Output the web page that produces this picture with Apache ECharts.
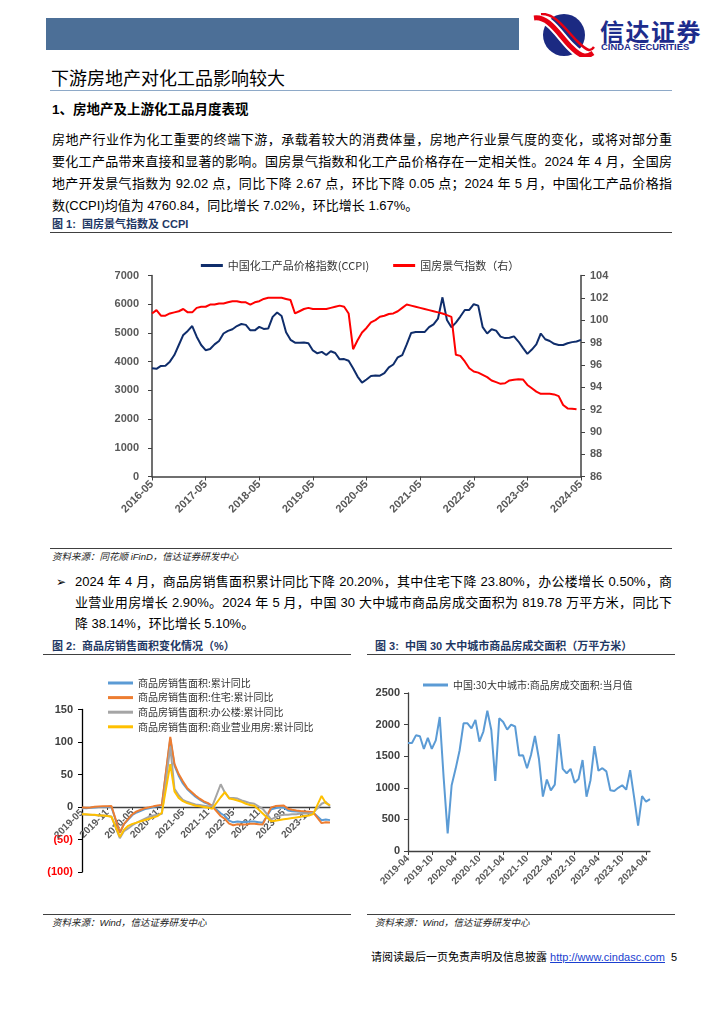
<!DOCTYPE html>
<html><head><meta charset="utf-8">
<script src="https://cdn.jsdelivr.net/npm/echarts/dist/echarts.min.js"></script>
<style>
body{margin:0;width:724px;height:1024px;background:#fff;position:relative;overflow:hidden;font-family:"Liberation Sans",Arial,"Noto Sans CJK SC",sans-serif;color:#000}
.a{position:absolute;white-space:nowrap}
.ln{position:absolute;left:52px;width:620px;height:22px;line-height:22px;font-size:13px;text-align:justify;text-align-last:justify;white-space:nowrap}
.lnl{position:absolute;left:52px;height:22px;line-height:22px;font-size:13px;white-space:nowrap}
.cap{position:absolute;font-size:11px;font-weight:bold;color:#1f3864;white-space:nowrap;line-height:14px}
.rule{position:absolute;height:0;border-top:1.3px solid #404040}
.src{position:absolute;font-size:9.5px;font-style:italic;color:#222;white-space:nowrap;line-height:12px}
.chart{position:absolute}
</style></head>
<body>
<!-- header -->
<div class="a" style="left:46px;top:18px;width:473px;height:32px;background:#4c6f97"></div>
<svg class="a" style="left:531px;top:13px" width="64" height="44" viewBox="0 0 64 44">
  <circle cx="33" cy="22" r="21" fill="#1b2a82"/>
  <path d="M3 5 C 18 3, 28 22, 40 34 S 56 44, 62 40" stroke="#fff" stroke-width="9" fill="none"/>
  <path d="M3 5 C 18 3, 28 22, 40 34 S 56 44, 62 40" stroke="#e60012" stroke-width="5" fill="none"/>
  <path d="M10 1 C 24 0, 34 16, 46 28 S 60 38, 63 34" stroke="#e60012" stroke-width="2.5" fill="none"/>
</svg>
<div class="a" style="left:600px;top:17px;font-size:24px;font-weight:bold;color:#1d2c8c;letter-spacing:1.5px;line-height:27px;font-family:'Noto Sans CJK SC'">信达证券</div>
<div class="a" style="left:601px;top:42px;font-size:9.4px;font-weight:bold;color:#1d2c8c;line-height:10px">CINDA SECURITIES</div>

<div class="a" style="left:51px;top:66px;font-size:18px;line-height:22px;font-family:'Noto Sans CJK SC'">下游房地产对化工品影响较大</div>
<div class="a" style="left:50px;top:90px;width:622px;height:0;border-top:1.3px solid #8ea9c8"></div>

<div class="a" style="left:52px;top:101px;font-size:13.5px;font-weight:bold;line-height:18px">1、房地产及上游化工品月度表现</div>

<div class="ln" style="top:129px">房地产行业作为化工重要的终端下游，承载着较大的消费体量，房地产行业景气度的变化，或将对部分重</div>
<div class="ln" style="top:151px">要化工产品带来直接和显著的影响。国房景气指数和化工产品价格存在一定相关性。2024 年 4 月，全国房</div>
<div class="ln" style="top:173px">地产开发景气指数为 92.02 点，同比下降 2.67 点，环比下降 0.05 点；2024 年 5 月，中国化工产品价格指</div>
<div class="lnl" style="top:195px">数(CCPI)均值为 4760.84，同比增长 7.02%，环比增长 1.67%。</div>

<div class="cap" style="left:52px;top:217px">图 1:&nbsp; 国房景气指数及 CCPI</div>
<div class="rule" style="left:50px;top:232px;width:622px"></div>

<div id="c1" class="chart" style="left:40px;top:240px;width:640px;height:305px"></div>

<div class="rule" style="left:50px;top:548px;width:622px"></div>
<div class="src" style="left:52px;top:551px">资料来源：同花顺 iFinD，信达证券研发中心</div>

<div class="a" style="left:56px;top:571px;font-size:12px;line-height:22px;font-family:'DejaVu Sans'">➢</div>
<div class="ln" style="left:75px;width:597px;top:571px">2024 年 4 月，商品房销售面积累计同比下降 20.20%，其中住宅下降 23.80%，办公楼增长 0.50%，商</div>
<div class="ln" style="left:75px;width:597px;top:592px">业营业用房增长 2.90%。2024 年 5 月，中国 30 大中城市商品房成交面积为 819.78 万平方米，同比下</div>
<div class="lnl" style="left:75px;top:613px">降 38.14%，环比增长 5.10%。</div>

<div class="cap" style="left:52px;top:639px">图 2:&nbsp; 商品房销售面积变化情况（%）</div>
<div class="rule" style="left:43px;top:654px;width:308px"></div>
<div class="cap" style="left:375px;top:639px">图 3:&nbsp; 中国 30 大中城市商品房成交面积（万平方米）</div>
<div class="rule" style="left:367px;top:654px;width:308px"></div>

<div id="c2" class="chart" style="left:40px;top:660px;width:320px;height:250px"></div>
<div id="c3" class="chart" style="left:360px;top:660px;width:320px;height:250px"></div>

<div class="rule" style="left:43px;top:914px;width:308px"></div>
<div class="src" style="left:52px;top:917px">资料来源：Wind，信达证券研发中心</div>
<div class="rule" style="left:367px;top:914px;width:308px"></div>
<div class="src" style="left:375px;top:917px">资料来源：Wind，信达证券研发中心</div>

<div class="a" style="left:371px;top:949px;font-size:11px;line-height:16px">请阅读最后一页免责声明及信息披露 <span style="color:#1a3fd0;text-decoration:underline">http://www.cindasc.com</span>&nbsp; 5</div>

<script>
// ---------- data ----------
function monthRange(start, end){
  const out=[]; let [y,m]=start.split('-').map(Number); const [ey,em]=end.split('-').map(Number);
  while(y<ey || (y===ey && m<=em)){ out.push(y+'-'+String(m).padStart(2,'0')); m++; if(m>12){m=1;y++;} }
  return out;
}
// Figure 1: 2016-05 .. 2024-05
const months1 = monthRange('2016-05','2024-05');
const ccpi = [
 3770,3750,3850,3860,4000,4230,4580,4930,
 5070,5240,4870,4580,4400,4440,4600,4720,4980,5070,5130,5240,
 5310,5280,5090,5090,5210,5140,5150,5560,5710,5590,5020,4760,
 4660,4660,4670,4640,4390,4290,4340,4230,4360,4300,4080,4090,
 4030,3770,3480,3270,3380,3500,3520,3510,3600,3800,3900,4150,
 4230,4600,5000,5030,5030,5030,5200,5300,5500,6240,5450,5200,
 5360,5570,5800,5800,6000,5950,5200,4980,5130,5080,4870,4820,
 4830,4880,4700,4480,4270,4420,4600,4980,4780,4720,4620,4580,
 4580,4640,4680,4700,4760
];
const gfjq = [
 100.6,100.9,100.4,100.4,100.6,100.7,100.8,101.0,
 100.7,100.7,101.1,101.2,101.2,101.4,101.4,101.5,101.5,101.6,101.7,101.7,
 101.6,101.6,101.4,101.6,101.7,101.9,102.0,102.0,102.0,102.0,101.9,101.8,
 100.6,100.8,101.0,101.1,101.0,101.0,101.0,101.0,101.1,101.2,101.3,101.2,
 100.6,97.4,98.2,98.9,99.3,99.8,100.0,100.3,100.4,100.55,100.6,100.8,
 101.1,101.4,101.3,101.2,101.1,101.0,100.9,100.8,100.7,100.6,100.45,100.3,
 96.9,96.8,96.3,95.7,95.4,95.3,95.1,94.9,94.6,94.45,94.3,94.35,
 94.6,94.67,94.71,94.69,94.2,93.9,93.6,93.4,93.4,93.4,93.35,93.2,
 92.4,92.1,92.07,92.02,null
];
// Figure 2: 2019-05 .. 2024-04 (January not published -> null)
const months2 = monthRange('2019-05','2024-04');
const salesTotal = [
 -1.6,-1.8,-1.3,-0.6,-0.1,0.1,0.2,-0.1,
 null,-39.9,-26.3,-19.3,-12.3,-8.4,-5.8,-3.3,-1.8,0.0,1.3,2.6,
 null,104.9,63.8,48.1,36.3,27.7,21.5,15.9,11.3,7.3,4.8,1.9,
 null,-9.6,-13.8,-20.9,-23.6,-22.2,-23.1,-23.0,-22.2,-22.3,-23.3,-24.3,
 null,-3.6,-1.8,-0.4,-0.9,-5.3,-6.5,-7.1,-7.5,-7.8,-8.0,-8.5,
 null,-20.5,-19.4,-20.2
];
const salesResidential = [
 -0.9,-1.0,-0.6,0.3,0.7,1.0,1.1,1.5,
 null,-39.2,-25.9,-18.3,-11.0,-6.8,-4.3,-1.8,-0.5,1.0,2.4,3.2,
 null,107.7,66.2,50.6,39.5,29.4,23.6,17.7,12.8,8.7,6.0,1.1,
 null,-13.8,-18.4,-25.5,-28.1,-26.6,-27.1,-26.8,-25.7,-25.6,-26.6,-26.8,
 null,-0.6,1.4,2.0,2.3,-2.8,-4.3,-5.5,-6.3,-6.8,-7.3,-8.2,
 null,-24.8,-23.4,-23.8
];
const salesOffice = [
 -11,-12,-12,-12.5,-13,-13,-13.5,-14.7,
 null,-48,-37,-33,-28,-24,-21,-18,-15,-13,-12,-10.4,
 null,93,28,18,11,8,6,4,3,2,1,1.2,
 null,35,22,14,14,13,10,8,6,5,1,-3,
 null,-19,-16,-13,-12,-12,-11,-11,-10,-10,-10,-9,
 null,5,8,0.5
];
const salesCommercial = [
 -11,-11,-12,-12,-13,-13,-14,-15,
 null,-46,-35,-29,-26,-24,-22,-20,-18,-16,-14,-8.7,
 null,66,24,14,9,6,4,2,1,0,-1,-2.6,
 null,15,23,13,12,10,8,5,3,2,-4,-10,
 null,-22,-21,-20,-19,-18,-17,-16,-15,-14,-13,-11,
 null,17,6,2.9
];
// Figure 3: 2019-04 .. 2024-05
const months3 = monthRange('2019-04','2024-05');
const city30 = [
 1710,1710,1830,1815,1615,1790,1615,1750,2120,
 1150,280,1040,1300,1590,2020,2020,1940,2075,1730,1890,2220,
 1915,1110,2100,2040,1920,2000,1970,1510,1515,1310,1520,1820,
 1460,860,1130,960,1050,1850,1300,1230,1300,1080,1140,1440,
 860,1120,1660,1270,1310,1260,960,950,1000,1040,970,1280,
 850,400,870,780,820
];

const LAT = '"Liberation Sans", Arial, sans-serif';
const CJK = '"Noto Sans CJK SC", sans-serif';
const axisCol = '#404040';
const lblCol = '#595959';
const plain = v => String(v);

// ---------- chart 1 ----------
const c1 = echarts.init(document.getElementById('c1'));
c1.setOption({
  animation:false,
  legend:{top:15,left:'center',itemWidth:22,itemHeight:3,itemGap:24,icon:'rect',
    textStyle:{fontSize:11,color:'#333',fontFamily:CJK},
    data:['中国化工产品价格指数(CCPI)','国房景气指数（右）']},
  grid:{left:112,top:35.5,width:429,height:201},
  xAxis:{type:'category',data:months1,boundaryGap:false,
    axisLine:{lineStyle:{color:axisCol,width:1.5}},
    axisTick:{interval:11,length:4,lineStyle:{color:axisCol}},
    axisLabel:{interval:11,rotate:45,fontSize:11,fontWeight:'bold',color:lblCol,fontFamily:LAT,margin:6}},
  yAxis:[
    {type:'value',min:0,max:7000,interval:1000,splitLine:{show:false},
     axisLine:{show:true,lineStyle:{color:axisCol,width:1.5}},axisTick:{show:true,length:4,lineStyle:{color:axisCol}},
     axisLabel:{fontSize:11,fontWeight:'bold',color:lblCol,fontFamily:LAT,margin:13,formatter:plain}},
    {type:'value',min:86,max:104,interval:2,position:'right',splitLine:{show:false},
     axisLine:{show:true,lineStyle:{color:axisCol,width:1.5}},axisTick:{show:true,length:4,lineStyle:{color:axisCol}},
     axisLabel:{fontSize:11,fontWeight:'bold',color:lblCol,fontFamily:LAT,margin:9,formatter:plain}}
  ],
  series:[
    {name:'中国化工产品价格指数(CCPI)',type:'line',data:ccpi,symbol:'none',lineStyle:{color:'#0f2d6b',width:2},itemStyle:{color:'#0f2d6b'}},
    {name:'国房景气指数（右）',type:'line',yAxisIndex:1,data:gfjq,symbol:'none',lineStyle:{color:'#ff0000',width:2},itemStyle:{color:'#ff0000'}}
  ]
});

// ---------- chart 2 ----------
const c2 = echarts.init(document.getElementById('c2'));
const s2 = [
  ['商品房销售面积:累计同比', salesTotal, '#5b9bd5'],
  ['商品房销售面积:住宅:累计同比', salesResidential, '#ed7d31'],
  ['商品房销售面积:办公楼:累计同比', salesOffice, '#a5a5a5'],
  ['商品房销售面积:商业营业用房:累计同比', salesCommercial, '#ffc000']
];
const y2min = -100, y2max = 150, grid2H = 162.5;
c2.setOption({
  animation:false,
  legend:{orient:'vertical',left:63,top:12,itemWidth:25,itemHeight:3,itemGap:2.6,icon:'rect',
    textStyle:{fontSize:10,lineHeight:12,color:'#333',fontFamily:CJK},data:s2.map(s=>s[0])},
  grid:{left:42,top:49.5,width:248,height:grid2H},
  xAxis:{type:'category',data:months2,boundaryGap:false,position:'bottom',
    // axis (with its labels) sits on the zero line, as in the source chart
    offset: -grid2H * (0 - y2min) / (y2max - y2min),
    axisLine:{onZero:false,lineStyle:{color:axisCol,width:1.3}},
    axisTick:{interval:5,length:3,lineStyle:{color:axisCol}},
    axisLabel:{interval:5,rotate:45,fontSize:10,fontWeight:'bold',color:lblCol,fontFamily:LAT,margin:4}},
  yAxis:{type:'value',min:y2min,max:y2max,interval:50,splitLine:{show:false},
    axisLine:{show:true,lineStyle:{color:'#000',width:1.3}},axisTick:{show:true,length:4,lineStyle:{color:'#000'}},
    axisLabel:{fontSize:11,fontWeight:'bold',fontFamily:LAT,margin:9,
      formatter:v=> v<0 ? '{n|('+(-v)+')}' : '{p|'+v+'}',
      rich:{n:{color:'#ff0000',fontSize:11,fontWeight:'bold',fontFamily:LAT},p:{color:'#404040',fontSize:11,fontWeight:'bold',fontFamily:LAT}}}},
  series:s2.map(s=>({name:s[0],type:'line',data:s[1],connectNulls:true,symbol:'none',
    lineStyle:{color:s[2],width:2},itemStyle:{color:s[2]}}))
});

// ---------- chart 3 ----------
const c3 = echarts.init(document.getElementById('c3'));
c3.setOption({
  animation:false,
  legend:{left:58,top:15,itemWidth:25,itemHeight:3,icon:'rect',
    textStyle:{fontSize:10,color:'#333',fontFamily:CJK},data:['中国:30大中城市:商品房成交面积:当月值']},
  grid:{left:48,top:33,width:242,height:158},
  xAxis:{type:'category',data:months3,boundaryGap:false,
    axisLine:{lineStyle:{color:axisCol,width:1.3}},
    axisTick:{interval:5,length:4,lineStyle:{color:axisCol}},
    axisLabel:{interval:5,rotate:45,fontSize:10,fontWeight:'bold',color:lblCol,fontFamily:LAT,margin:6}},
  yAxis:{type:'value',min:0,max:2500,interval:500,splitLine:{show:false},
    axisLine:{show:true,lineStyle:{color:axisCol,width:1.3}},axisTick:{show:true,length:4,lineStyle:{color:axisCol}},
    axisLabel:{fontSize:11,fontWeight:'bold',color:'#404040',fontFamily:LAT,margin:8,formatter:plain}},
  series:[{name:'中国:30大中城市:商品房成交面积:当月值',type:'line',data:city30,symbol:'none',
    lineStyle:{color:'#5b9bd5',width:2},itemStyle:{color:'#5b9bd5'}}]
});
</script>
</body></html>
